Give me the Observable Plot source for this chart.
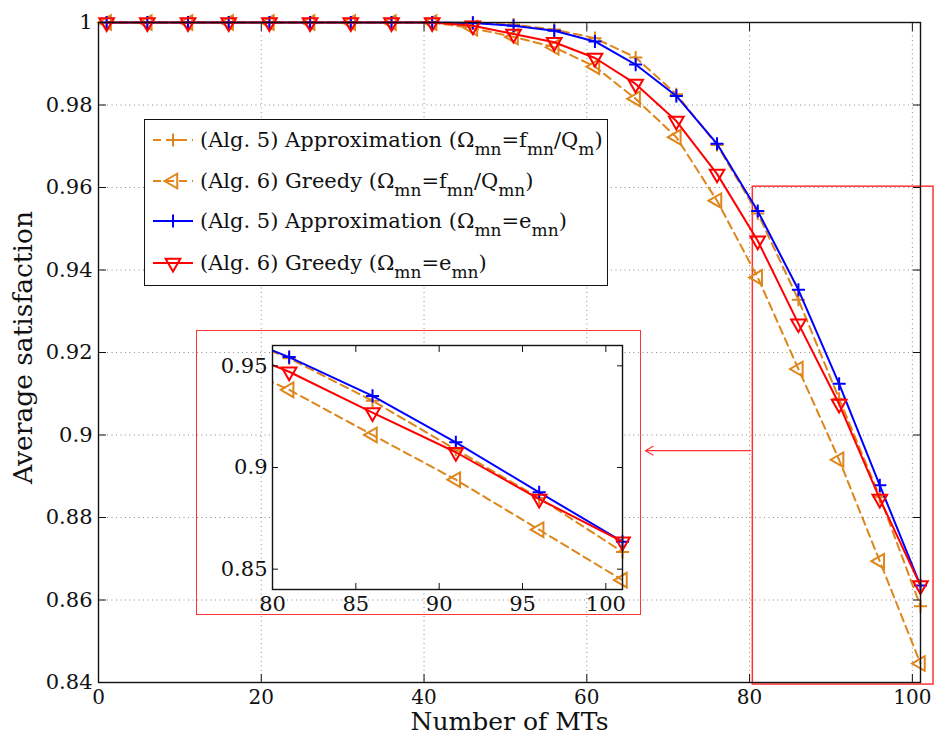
<!DOCTYPE html>
<html>
<head>
<meta charset="utf-8">
<script src="https://cdn.jsdelivr.net/npm/d3@7"></script>
<script src="https://cdn.jsdelivr.net/npm/@observablehq/plot@0.6"></script>
<style>
  html, body { margin: 0; padding: 0; background: #fff; }
  #chart { position: relative; width: 934px; height: 735px; font-family: "DejaVu Serif", serif; color: #111; overflow: hidden; }
  #chart > svg { position: absolute; }
  .legend { position: absolute; left: 144px; top: 119px; width: 464px; height: 167px; box-sizing: border-box; border: 1.5px solid #111; background: #fff; }
  .legend .row { position: absolute; left: 7px; height: 30px; display: flex; align-items: center; white-space: nowrap; font-size: 21px; }
  .legend .row svg { display: block; margin-right: 6px; }
  .legend sub { font-size: 17px; vertical-align: -8px; line-height: 0; }
  .zoomframe { position: absolute; left: 196px; top: 330px; width: 445px; height: 285px; box-sizing: border-box; border: 1.5px solid #f33; pointer-events: none; }
</style>
</head>
<body>
<div id="chart"></div>
<script>
// ---- data ----
const mts = [1, 6, 11, 16, 21, 26, 31, 36, 41, 46, 51, 56, 61, 66, 71, 76, 81, 86, 91, 96, 101];
const approxFQ = [1, 1, 1, 1, 1, 1, 1, 1, 1, 0.9999, 0.9995, 0.9983, 0.9962, 0.9915, 0.9826, 0.9703, 0.9537, 0.9328, 0.9088, 0.8850, 0.8585];
const greedyFQ = [1, 1, 1, 1, 1, 1, 1, 1, 1, 0.9986, 0.9965, 0.9940, 0.9893, 0.9815, 0.9722, 0.9568, 0.9382, 0.9160, 0.8940, 0.8694, 0.8446];
const approxE  = [1, 1, 1, 1, 1, 1, 1, 1, 1, 0.9999, 0.9992, 0.9980, 0.9954, 0.9898, 0.9822, 0.9706, 0.9543, 0.9352, 0.9124, 0.8878, 0.8635];
const greedyE  = [1, 1, 1, 1, 1, 1, 1, 1, 1, 0.9992, 0.9972, 0.9952, 0.9914, 0.9851, 0.9761, 0.9633, 0.9471, 0.9270, 0.9075, 0.8845, 0.8635];

const seriesLabels = [
  '(Alg. 5) Approximation (Ω<sub>mn</sub>=f<sub>mn</sub>/Q<sub>m</sub>)',
  '(Alg. 6) Greedy (Ω<sub>mn</sub>=f<sub>mn</sub>/Q<sub>mn</sub>)',
  '(Alg. 5) Approximation (Ω<sub>mn</sub>=e<sub>mn</sub>)',
  '(Alg. 6) Greedy (Ω<sub>mn</sub>=e<sub>mn</sub>)'
];

const xTicks = [0, 20, 40, 60, 80, 100];
const xTickLabels = ["0", "20", "40", "60", "80", "100"];
const yTicks = [0.84, 0.86, 0.88, 0.9, 0.92, 0.94, 0.96, 0.98, 1];
const yTickLabels = ["0.84", "0.86", "0.88", "0.9", "0.92", "0.94", "0.96", "0.98", "1"];
const insetXTicks = [80, 85, 90, 95, 100];
const insetXTickLabels = ["80", "85", "90", "95", "100"];
const insetYTicks = [0.85, 0.9, 0.95];
const insetYTickLabels = ["0.85", "0.9", "0.95"];

const xLabel = "Number of MTs";
const yLabel = "Average satisfaction";

// zoom callout region (main chart data units) and arrow
const zoomX = [80.4, 102.6];
const zoomY = [0.8395, 0.9602];
const arrowX = [80.1, 67.2];
const arrowY = [0.8962, 0.8962];

// ---- styles ----
const ORANGE = "#de861b";
const seriesColors = [ORANGE, ORANGE, "#0000ff", "#ff0000"];
const seriesDash = ["8,5", "8,5", null, null];
const seriesSymbol = ["plus", "triangle2", "plus", "triangle2"];
const seriesRotate = [0, -90, 0, 180];
const seriesR = [4.3, 7.0, 4.3, 7.0];

const seriesValues = [approxFQ, greedyFQ, approxE, greedyE];
const series = seriesValues.map((vals, k) => ({
  rows: mts.map((x, i) => ({x, y: vals[i]})),
  color: seriesColors[k], dash: seriesDash[k], symbol: seriesSymbol[k], rotate: seriesRotate[k], r: seriesR[k]
}));

function seriesMarks(filterFn, clipLines) {
  const out = [];
  for (const s of series) {
    out.push(Plot.line(s.rows, {x: "x", y: "y", stroke: s.color, strokeWidth: 2, strokeDasharray: s.dash, clip: clipLines}));
    out.push(Plot.dot(filterFn ? s.rows.filter(filterFn) : s.rows, {
      x: "x", y: "y", symbol: s.symbol, rotate: s.rotate, r: s.r,
      stroke: s.color, strokeWidth: 2, fill: "none"
    }));
  }
  return out;
}

const fmt = (ticks, labels) => d => labels[ticks.indexOf(d)];
const gridStyle = {stroke: "#8c8c8c", strokeOpacity: 1, strokeDasharray: "1,3.5", strokeWidth: 1};

// ---- main chart ----
const main = Plot.plot({
  width: 934, height: 735,
  marginLeft: 98, marginRight: 14, marginTop: 22, marginBottom: 53,
  style: {fontFamily: "DejaVu Serif", fontSize: "21px", background: "transparent", overflow: "visible", color: "#111"},
  x: {domain: [0, 101], label: null},
  y: {domain: [0.84, 1], label: null},
  marks: [
    Plot.gridX(xTicks.slice(1), gridStyle),
    Plot.gridY(yTicks.slice(1, -1), gridStyle),
    Plot.rect([0], {x1: () => zoomX[0], x2: () => zoomX[1], y1: () => zoomY[0], y2: () => zoomY[1], stroke: "#f33", strokeWidth: 1.5, fill: "none"}),
    Plot.arrow([0], {x1: () => arrowX[0], y1: () => arrowY[0], x2: () => arrowX[1], y2: () => arrowY[1], stroke: "#f33", strokeWidth: 1.2, headLength: 11}),
    ...seriesMarks(null, false),
    Plot.frame({stroke: "#111", strokeWidth: 1.4}),
    Plot.axisX(xTicks, {anchor: "bottom", tickSize: -8, tickPadding: 15, tickFormat: fmt(xTicks, xTickLabels), fontSize: 20, label: null}),
    Plot.axisX(xTicks, {anchor: "top", tickSize: -8, tickFormat: () => "", label: null}),
    Plot.axisY(yTicks, {anchor: "left", tickSize: -8, tickPadding: 14, tickFormat: fmt(yTicks, yTickLabels), fontSize: 21, label: null}),
    Plot.axisY(yTicks, {anchor: "right", tickSize: -8, tickFormat: () => "", label: null}),
    Plot.text([xLabel], {text: d => d, frameAnchor: "bottom", dy: 39, fontSize: 25, lineAnchor: "middle", textAnchor: "middle"}),
    Plot.text([yLabel], {text: d => d, frameAnchor: "left", dx: -75, dy: -5, rotate: -90, fontSize: 26.5, lineAnchor: "middle", textAnchor: "middle"})
  ]
});
main.style.left = "0px";
main.style.top = "0px";

// ---- inset chart ----
const inset = Plot.plot({
  width: 443, height: 283,
  marginLeft: 75, marginRight: 18, marginTop: 14, marginBottom: 25,
  style: {fontFamily: "DejaVu Serif", fontSize: "21px", background: "transparent", overflow: "visible", color: "#111"},
  x: {domain: [80, 101], label: null},
  y: {domain: [0.84, 0.96], label: null},
  marks: [
    Plot.frame({fill: "white"}),
    ...seriesMarks(d => d.x >= 80, true),
    Plot.frame({stroke: "#111", strokeWidth: 1.4}),
    Plot.axisX(insetXTicks, {anchor: "bottom", tickSize: -6, tickPadding: 13, tickFormat: fmt(insetXTicks, insetXTickLabels), fontSize: 21, label: null}),
    Plot.axisX(insetXTicks, {anchor: "top", tickSize: -6, tickFormat: () => "", label: null}),
    Plot.axisY(insetYTicks, {anchor: "left", tickSize: -6, tickPadding: 11, tickFormat: fmt(insetYTicks, insetYTickLabels), fontSize: 21, label: null}),
    Plot.axisY(insetYTicks, {anchor: "right", tickSize: -6, tickFormat: () => "", label: null})
  ]
});
inset.style.left = "197px";
inset.style.top = "331px";

const chart = document.getElementById("chart");
chart.appendChild(main);

// ---- legend ----
const legend = document.createElement("div");
legend.className = "legend";
const rowCenters = [20, 61, 101, 143];
series.forEach((s, k) => {
  const row = document.createElement("div");
  row.className = "row";
  row.style.top = (rowCenters[k] - 15) + "px";
  const sym = s.symbol === "plus" ? d3.symbolPlus : d3.symbolTriangle2;
  const path = d3.symbol(sym, Math.PI * s.r * s.r)();
  row.innerHTML =
    `<svg width="42" height="30"><line x1="1" x2="41" y1="15" y2="15" stroke="${s.color}" stroke-width="2" ${s.dash ? `stroke-dasharray="${s.dash}"` : ""}/>` +
    `<path d="${path}" transform="translate(21,15) rotate(${s.rotate})" fill="none" stroke="${s.color}" stroke-width="2"/></svg>` +
    `<span>${seriesLabels[k]}</span>`;
  legend.appendChild(row);
});
chart.appendChild(legend);

const zf = document.createElement("div");
zf.className = "zoomframe";
chart.appendChild(zf);
chart.appendChild(inset);
</script>
</body>
</html>
